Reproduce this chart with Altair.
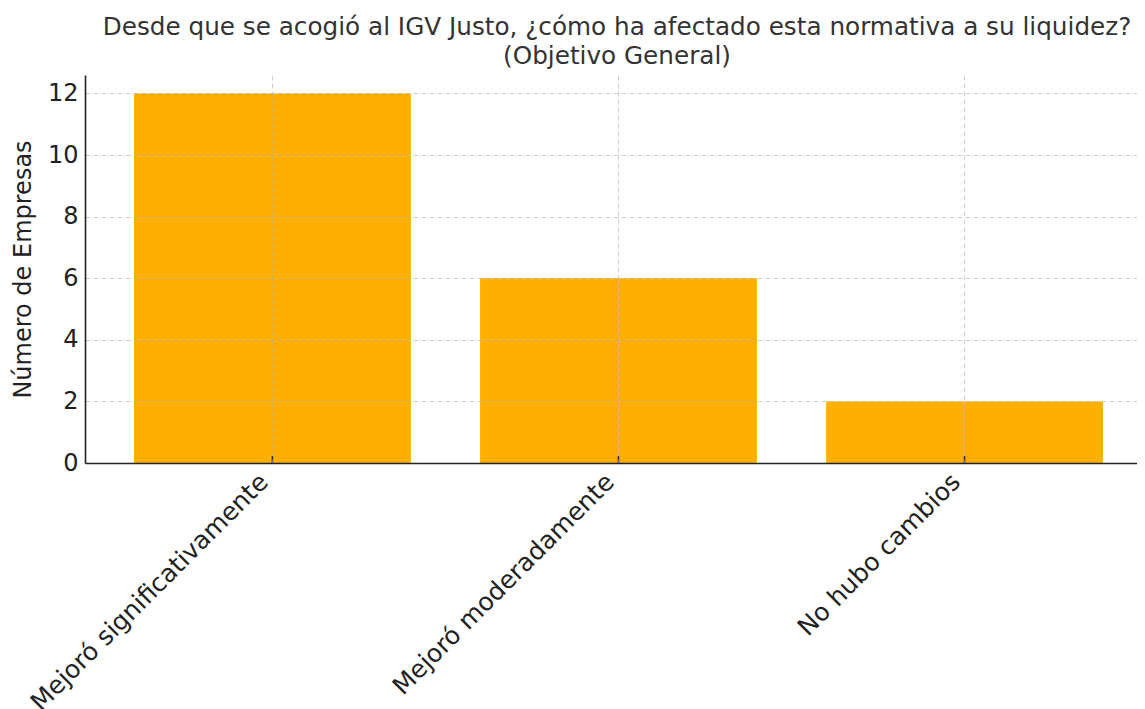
import altair as alt
import pandas as pd

categories = ["Mejoró significativamente", "Mejoró moderadamente", "No hubo cambios"]
values = [12, 6, 2]
y_ticks = [0, 2, 4, 6, 8, 10, 12]

df = pd.DataFrame({"cat": categories, "n": values})

FONT = "DejaVu Sans"

x_enc = alt.X(
    "cat:N",
    sort=categories,
    scale=alt.Scale(paddingInner=0.2, paddingOuter=0.12, align=0.59),
    axis=alt.Axis(
        title=None,
        labelAngle=-45,
        labelAlign="right",
        labelBaseline="top",
        labelFontSize=25,
        labelColor="#222222",
        labelPadding=6,
        labelOffset=-17,
        labelLimit=0,
        ticks=False,
        grid=True,
        gridColor="#b0b0b0",
        gridOpacity=0.6,
        gridDash=[5, 3],
        domainColor="#222222",
        domainWidth=1.6,
        zindex=1,
    ),
)

bars = alt.Chart(df).mark_bar(color="#FFAF00").encode(
    x=x_enc,
    y=alt.Y(
        "n:Q",
        scale=alt.Scale(domain=[0, 12.6], nice=False),
        axis=alt.Axis(
            title="Número de Empresas",
            values=y_ticks,
            labelFontSize=24,
            labelColor="#222222",
            titleFontSize=24,
            titleFontWeight="normal",
            titleColor="#222222",
            titlePadding=12,
            ticks=False,
            labelPadding=7,
            grid=True,
            gridColor="#b0b0b0",
            gridOpacity=0.6,
            gridDash=[5, 3],
            domainColor="#222222",
            domainWidth=1.6,
            zindex=1,
        ),
    ),
)

ticks = alt.Chart(df).mark_rule(color="#222222", strokeWidth=1.5).encode(
    x=alt.X("cat:N", sort=categories),
    y=alt.value(388),
    y2=alt.value(381),
)

chart = (
    alt.layer(bars, ticks)
    .properties(
        width=1052,
        height=388,
        autosize=alt.AutoSizeParams(type="none"),
        padding={"left": 77, "top": 67, "right": 0, "bottom": 246},
        title=alt.TitleParams(
            text=["Desde que se acogió al IGV Justo, ¿cómo ha afectado esta normativa a su liquidez?", "(Objetivo General)"],
            fontSize=24.7,
            font=FONT,
            fontWeight="normal",
            color="#333333",
            lineHeight=29,
            offset=6,
            dx=6,
        ),
    )
    .configure(font=FONT)
    .configure_view(stroke=None)
)

chart.save("out.html", embed_options={"renderer": "svg", "actions": False})
